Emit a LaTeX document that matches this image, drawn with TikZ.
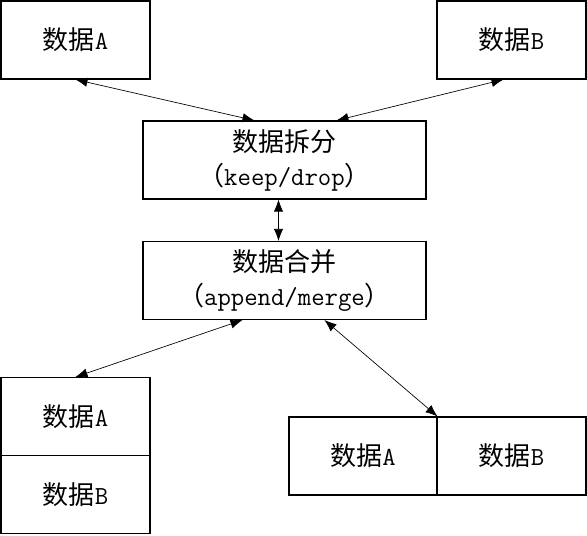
\documentclass[tikz,border=0pt]{standalone}
\usepackage{fontspec}
\usetikzlibrary{arrows.meta,positioning}
\newfontfamily\cjk{Noto Sans CJK SC}
\newcommand{\zh}[1]{{\cjk #1}}

\tikzset{
	databox/.style={draw, line width=0.8pt, minimum width=111.75pt, minimum height=58.5pt, inner sep=0pt,
		align=center, font=\fontsize{19.5}{25.5}\selectfont\ttfamily},
	widebox/.style={databox, minimum width=212.25pt},
	link/.style={{Latex[length=9pt,width=7pt]}-{Latex[length=9pt,width=7pt]}, line width=0.5pt}
}

\begin{document}
\begin{tikzpicture}[x=0.75pt,y=-0.75pt]
	  \useasboundingbox (0,0) rectangle (587,536);   % page size

	  % sources
	  \node[databox] (topA) at (75.5,40) {\zh{数据}A};
	  \node[databox] (topB) at (511.5,40) {\zh{数据}B};

	  % split and merge
	  \node[widebox] (split) at (284.5,160) {\zh{数据拆分}\\\zh{（}keep/drop\zh{）}};
	  \node[widebox] (merge) at (284.5,280.5) {\zh{数据合并}\\\zh{（}append/merge\zh{）}};

	  % append: rows stacked
	  \node[databox] (stackA) at (75.5,416.5) {\zh{数据}A};
	  \node[databox, below=-0.8pt of stackA] (stackB) {\zh{数据}B};

	  % merge: columns side by side
	  \node[databox, minimum width=111pt] (sideA) at (363,456) {\zh{数据}A};
	  \node[databox, right=-0.8pt of sideA] (sideB) {\zh{数据}B};

	  \draw[link] (topA.south) -- ([xshift=84pt]split.north west);
	  \draw[link] ([xshift=-6pt]topB.south) -- ([xshift=145.5pt]split.north west);
	  \draw[link] ([xshift=-4.5pt]split.south) -- ([xshift=-4.5pt]merge.north);
	  \draw[link] ([xshift=75pt]merge.south west) -- (stackA.north);
	  \draw[link] ([xshift=136.5pt]merge.south west) -- (sideA.north east);
	\end{tikzpicture}
\end{document}
